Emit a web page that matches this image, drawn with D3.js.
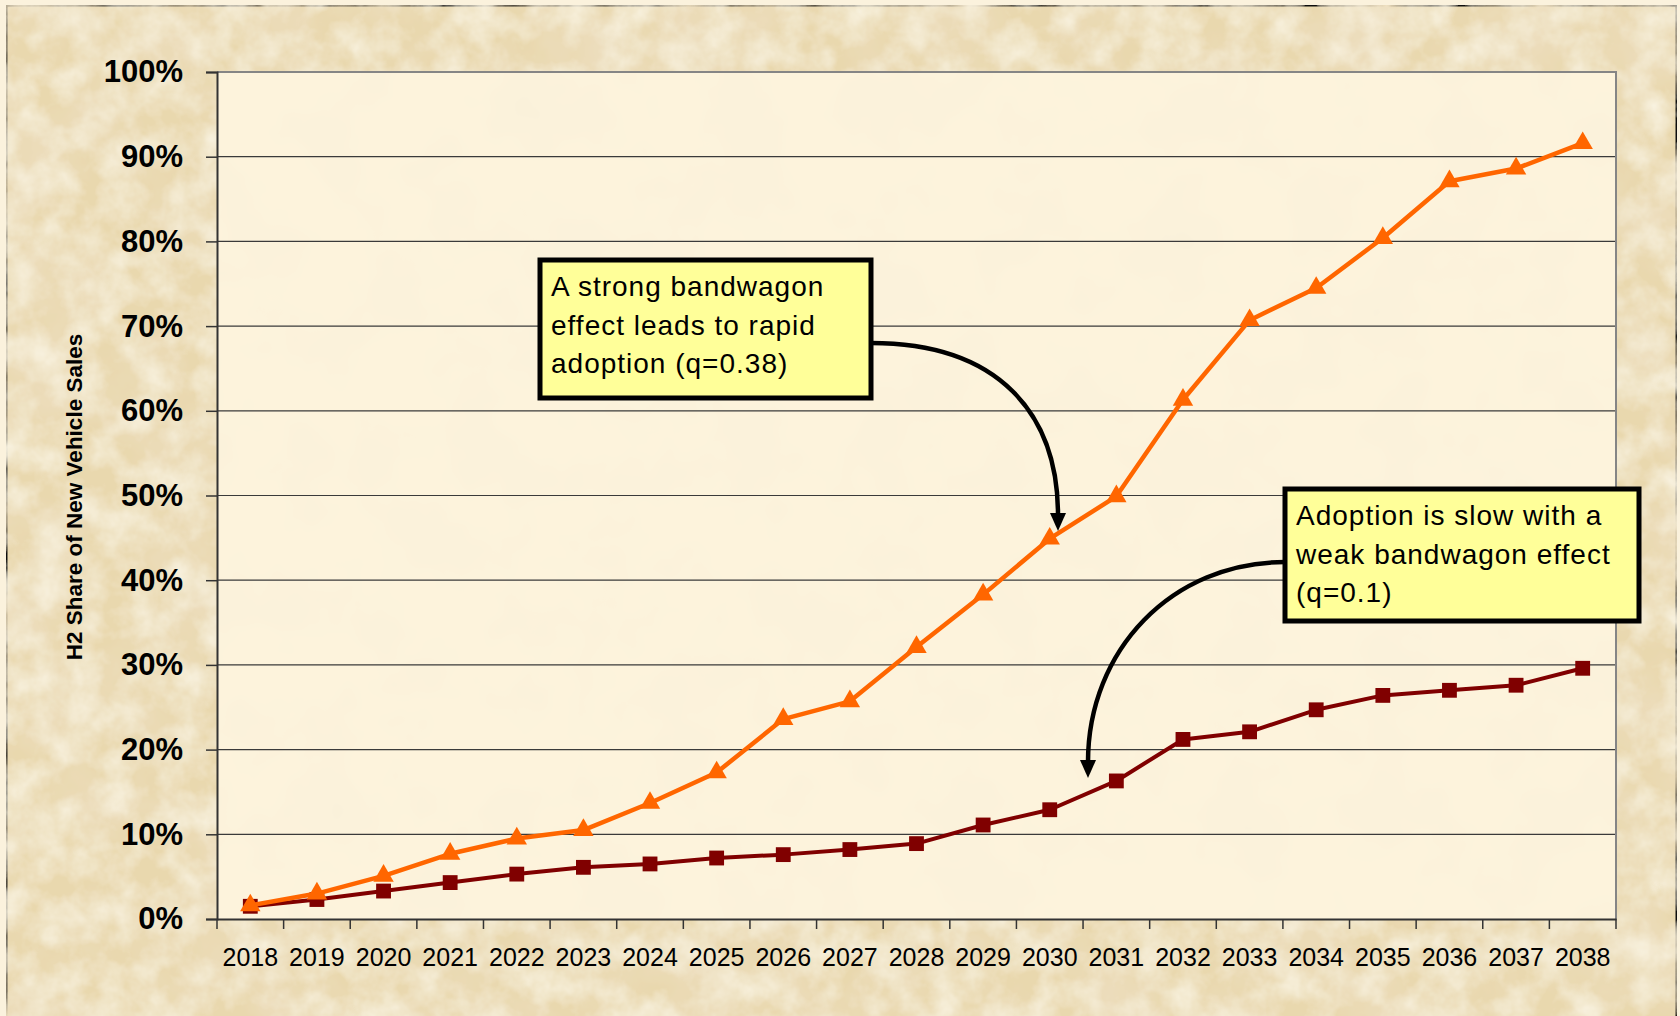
<html>
<head>
    <title>H2 Share of New Vehicle Sales</title>
    <style>
        body {
            margin: 0;
            background: #fbf2dd;
            font-family: Arial, "Liberation Sans", Helvetica, sans-serif;
        }
    </style>
</head>
<body>
    <div id="chart-holder"></div>
    <script src="https://d3js.org/d3.v7.min.js"></script>
    <script>
    // data
    var years = ['2018', '2019', '2020', '2021', '2022', '2023', '2024', '2025', '2026', '2027', '2028',
                 '2029', '2030', '2031', '2032', '2033', '2034', '2035', '2036', '2037', '2038'];
    var strongBandwagon = [1.6, 3.0, 5.1, 7.7, 9.5, 10.5, 13.7, 17.3, 23.6, 25.7, 32.1,
                           38.3, 44.9, 49.9, 61.3, 70.7, 74.5, 80.4, 87.1, 88.6, 91.6];
    var weakBandwagon = [1.5, 2.3, 3.3, 4.3, 5.3, 6.1, 6.5, 7.2, 7.6, 8.2, 8.9,
                         11.1, 12.9, 16.3, 21.2, 22.1, 24.7, 26.4, 27.0, 27.6, 29.6];
    var yTicks = [0, 10, 20, 30, 40, 50, 60, 70, 80, 90, 100];

    var width = 1680;
    var height = 1016;
    var plot = {left: 217, top: 72, right: 1616, bottom: 919};

    var svg = d3.select('#chart-holder')
                .append('svg')
                .attr('width', width)
                .attr('height', height)
                .style('display', 'block');

    var defs = svg.append('defs');

    // parchment texture
    var paper = defs.append('filter').attr('id', 'paper')
                    .attr('x', 0).attr('y', 0).attr('width', '100%').attr('height', '100%');
    paper.append('feTurbulence').attr('type', 'fractalNoise').attr('baseFrequency', '0.012')
         .attr('numOctaves', 5).attr('seed', 7).attr('result', 'noise');
    paper.append('feColorMatrix').attr('in', 'noise').attr('type', 'matrix')
         .attr('values', '0 0 0 0 0.84  0 0 0 0 0.72  0 0 0 0 0.50  2.4 0 0 0 -0.95')
         .attr('result', 'spots');
    paper.append('feComposite').attr('in', 'spots').attr('in2', 'SourceGraphic').attr('operator', 'atop')
         .attr('result', 'dark');
    paper.append('feTurbulence').attr('type', 'fractalNoise').attr('baseFrequency', '0.03')
         .attr('numOctaves', 4).attr('seed', 21).attr('result', 'noise2');
    paper.append('feColorMatrix').attr('in', 'noise2').attr('type', 'matrix')
         .attr('values', '0 0 0 0 0.95  0 0 0 0 0.90  0 0 0 0 0.76  0 1.6 0 0 -0.55')
         .attr('result', 'light');
    paper.append('feComposite').attr('in', 'light').attr('in2', 'dark').attr('operator', 'atop');

    var paperLight = defs.append('filter').attr('id', 'paperLight')
                         .attr('x', 0).attr('y', 0).attr('width', '100%').attr('height', '100%');
    paperLight.append('feTurbulence').attr('type', 'fractalNoise').attr('baseFrequency', '0.014')
              .attr('numOctaves', 3).attr('seed', 2).attr('result', 'noise');
    paperLight.append('feColorMatrix').attr('in', 'noise').attr('type', 'matrix')
              .attr('values', '0 0 0 0 0.95  0 0 0 0 0.88  0 0 0 0 0.70  1.6 0 0 0 -0.65')
              .attr('result', 'spots');
    paperLight.append('feComposite').attr('in', 'spots').attr('in2', 'SourceGraphic').attr('operator', 'atop');

    // arrow head
    defs.append('marker')
        .attr('id', 'arrow')
        .attr('markerUnits', 'userSpaceOnUse')
        .attr('viewBox', '0 -8 18 16')
        .attr('refX', 2)
        .attr('refY', 0)
        .attr('markerWidth', 18)
        .attr('markerHeight', 16)
        .attr('orient', 'auto')
        .append('path')
        .attr('d', 'M0,-8L18,0L0,8Z')
        .attr('fill', '#000');

    // outer frame
    svg.append('rect')
       .attr('x', 6.5).attr('y', 5.5)
       .attr('width', 1670).attr('height', 1030)
       .attr('fill', '#e9d8ae')
       .attr('stroke', '#111')
       .attr('stroke-width', 2)
       .attr('filter', 'url(#paper)');

    // plot area
    svg.append('rect')
       .attr('x', plot.left).attr('y', plot.top)
       .attr('width', plot.right - plot.left).attr('height', plot.bottom - plot.top)
       .attr('fill', '#fdf3dc')
       .attr('filter', 'url(#paperLight)');

    // scales
    var x = d3.scaleBand()
              .domain(years)
              .range([plot.left, plot.right]);

    var y = d3.scaleLinear()
              .domain([0, 100])
              .range([plot.bottom, plot.top]);

    // gridlines
    svg.append('g')
       .attr('class', 'grid')
       .selectAll('line')
       .data(yTicks.slice(1, -1))
       .enter()
       .append('line')
       .attr('x1', plot.left)
       .attr('x2', plot.right)
       .attr('y1', function(d) { return y(d); })
       .attr('y2', function(d) { return y(d); })
       .attr('stroke', '#3a3a3a')
       .attr('stroke-width', 1.2);

    // top and right border of plot area
    svg.append('path')
       .attr('d', 'M' + plot.left + ',' + plot.top + 'H' + plot.right + 'V' + plot.bottom)
       .attr('fill', 'none')
       .attr('stroke', '#858585')
       .attr('stroke-width', 2);

    // y axis
    var yAxis = d3.axisLeft(y)
                  .tickValues(yTicks)
                  .tickSize(11)
                  .tickPadding(23)
                  .tickFormat(function(d) { return d + '%'; });

    var yG = svg.append('g')
                .attr('class', 'y-axis')
                .attr('transform', 'translate(' + plot.left + ',0)')
                .call(yAxis);
    yG.selectAll('text')
      .attr('font-family', 'Arial, "Liberation Sans", sans-serif')
      .attr('font-size', 31)
      .attr('font-weight', 'bold')
      .attr('fill', '#000');
    yG.selectAll('line').attr('stroke', '#333').attr('stroke-width', 1.5);
    yG.select('.domain').attr('stroke', '#333').attr('stroke-width', 2);

    // x axis (labels at band centres, ticks at band edges)
    var xAxis = d3.axisBottom(x).tickSize(0).tickPadding(29);
    var xG = svg.append('g')
                .attr('class', 'x-axis')
                .attr('transform', 'translate(0,' + plot.bottom + ')')
                .call(xAxis);
    xG.selectAll('text')
      .attr('font-family', 'Arial, "Liberation Sans", sans-serif')
      .attr('font-size', 25)
      .attr('fill', '#000');
    xG.select('.domain').attr('stroke', '#333').attr('stroke-width', 2);

    xG.selectAll('.edge-tick')
      .data(years.concat(['end']))
      .enter()
      .append('line')
      .attr('class', 'edge-tick')
      .attr('x1', function(d) { return d === 'end' ? plot.right : x(d); })
      .attr('x2', function(d) { return d === 'end' ? plot.right : x(d); })
      .attr('y1', 0)
      .attr('y2', 10)
      .attr('stroke', '#333')
      .attr('stroke-width', 1.5);

    // y axis title
    svg.append('text')
       .attr('transform', 'translate(82,497) rotate(-90)')
       .attr('text-anchor', 'middle')
       .attr('font-size', 22.5)
       .attr('font-weight', 'bold')
       .attr('fill', '#000')
       .text('H2 Share of New Vehicle Sales');

    // series
    var series = [
        {name: 'q=0.1', values: weakBandwagon, color: '#800000', width: 4, symbol: d3.symbolSquare, size: 220},
        {name: 'q=0.38', values: strongBandwagon, color: '#ff6600', width: 4.5, symbol: d3.symbolTriangle, size: 180}
    ];

    var line = d3.line()
                 .x(function(d, i) { return x(years[i]) + x.bandwidth() / 2; })
                 .y(function(d) { return y(d); });

    var groups = svg.selectAll('.series')
                    .data(series)
                    .enter()
                    .append('g')
                    .attr('class', 'series');

    groups.append('path')
          .attr('d', function(d) { return line(d.values); })
          .attr('fill', 'none')
          .attr('stroke', function(d) { return d.color; })
          .attr('stroke-width', function(d) { return d.width; })
          .attr('stroke-linejoin', 'round');

    groups.each(function(s) {
        d3.select(this)
          .selectAll('.marker')
          .data(s.values)
          .enter()
          .append('path')
          .attr('class', 'marker')
          .attr('d', d3.symbol().type(s.symbol).size(s.size))
          .attr('transform', function(d, i) {
              return 'translate(' + (x(years[i]) + x.bandwidth() / 2) + ',' + y(d) + ')';
          })
          .attr('fill', s.color);
    });

    // callouts
    var callouts = [
        {x: 540, y: 260, w: 331, h: 138,
         lines: ['A strong bandwagon', 'effect leads to rapid', 'adoption (q=0.38)'],
         arrow: 'M871,343 C1000,343 1058,415 1058,515'},
        {x: 1285, y: 489, w: 354, h: 132,
         lines: ['Adoption is slow with a', 'weak bandwagon effect', '(q=0.1)'],
         arrow: 'M1285,562 C1172,562 1088,650 1088,762'}
    ];

    callouts.forEach(function(c) {
        svg.append('path')
           .attr('d', c.arrow)
           .attr('fill', 'none')
           .attr('stroke', '#000')
           .attr('stroke-width', 4.5)
           .attr('marker-end', 'url(#arrow)');

        svg.append('rect')
           .attr('x', c.x).attr('y', c.y)
           .attr('width', c.w).attr('height', c.h)
           .attr('fill', '#ffff99')
           .attr('stroke', '#000')
           .attr('stroke-width', 5);

        svg.append('text')
           .attr('x', c.x + 11)
           .attr('y', c.y + 36)
           .attr('font-size', 28)
           .attr('letter-spacing', 1)
           .attr('fill', '#000')
           .selectAll('tspan')
           .data(c.lines)
           .enter()
           .append('tspan')
           .attr('x', c.x + 11)
           .attr('dy', function(d, i) { return i === 0 ? 0 : 38.5; })
           .text(function(d) { return d; });
    });
    </script>
</body>
</html>
